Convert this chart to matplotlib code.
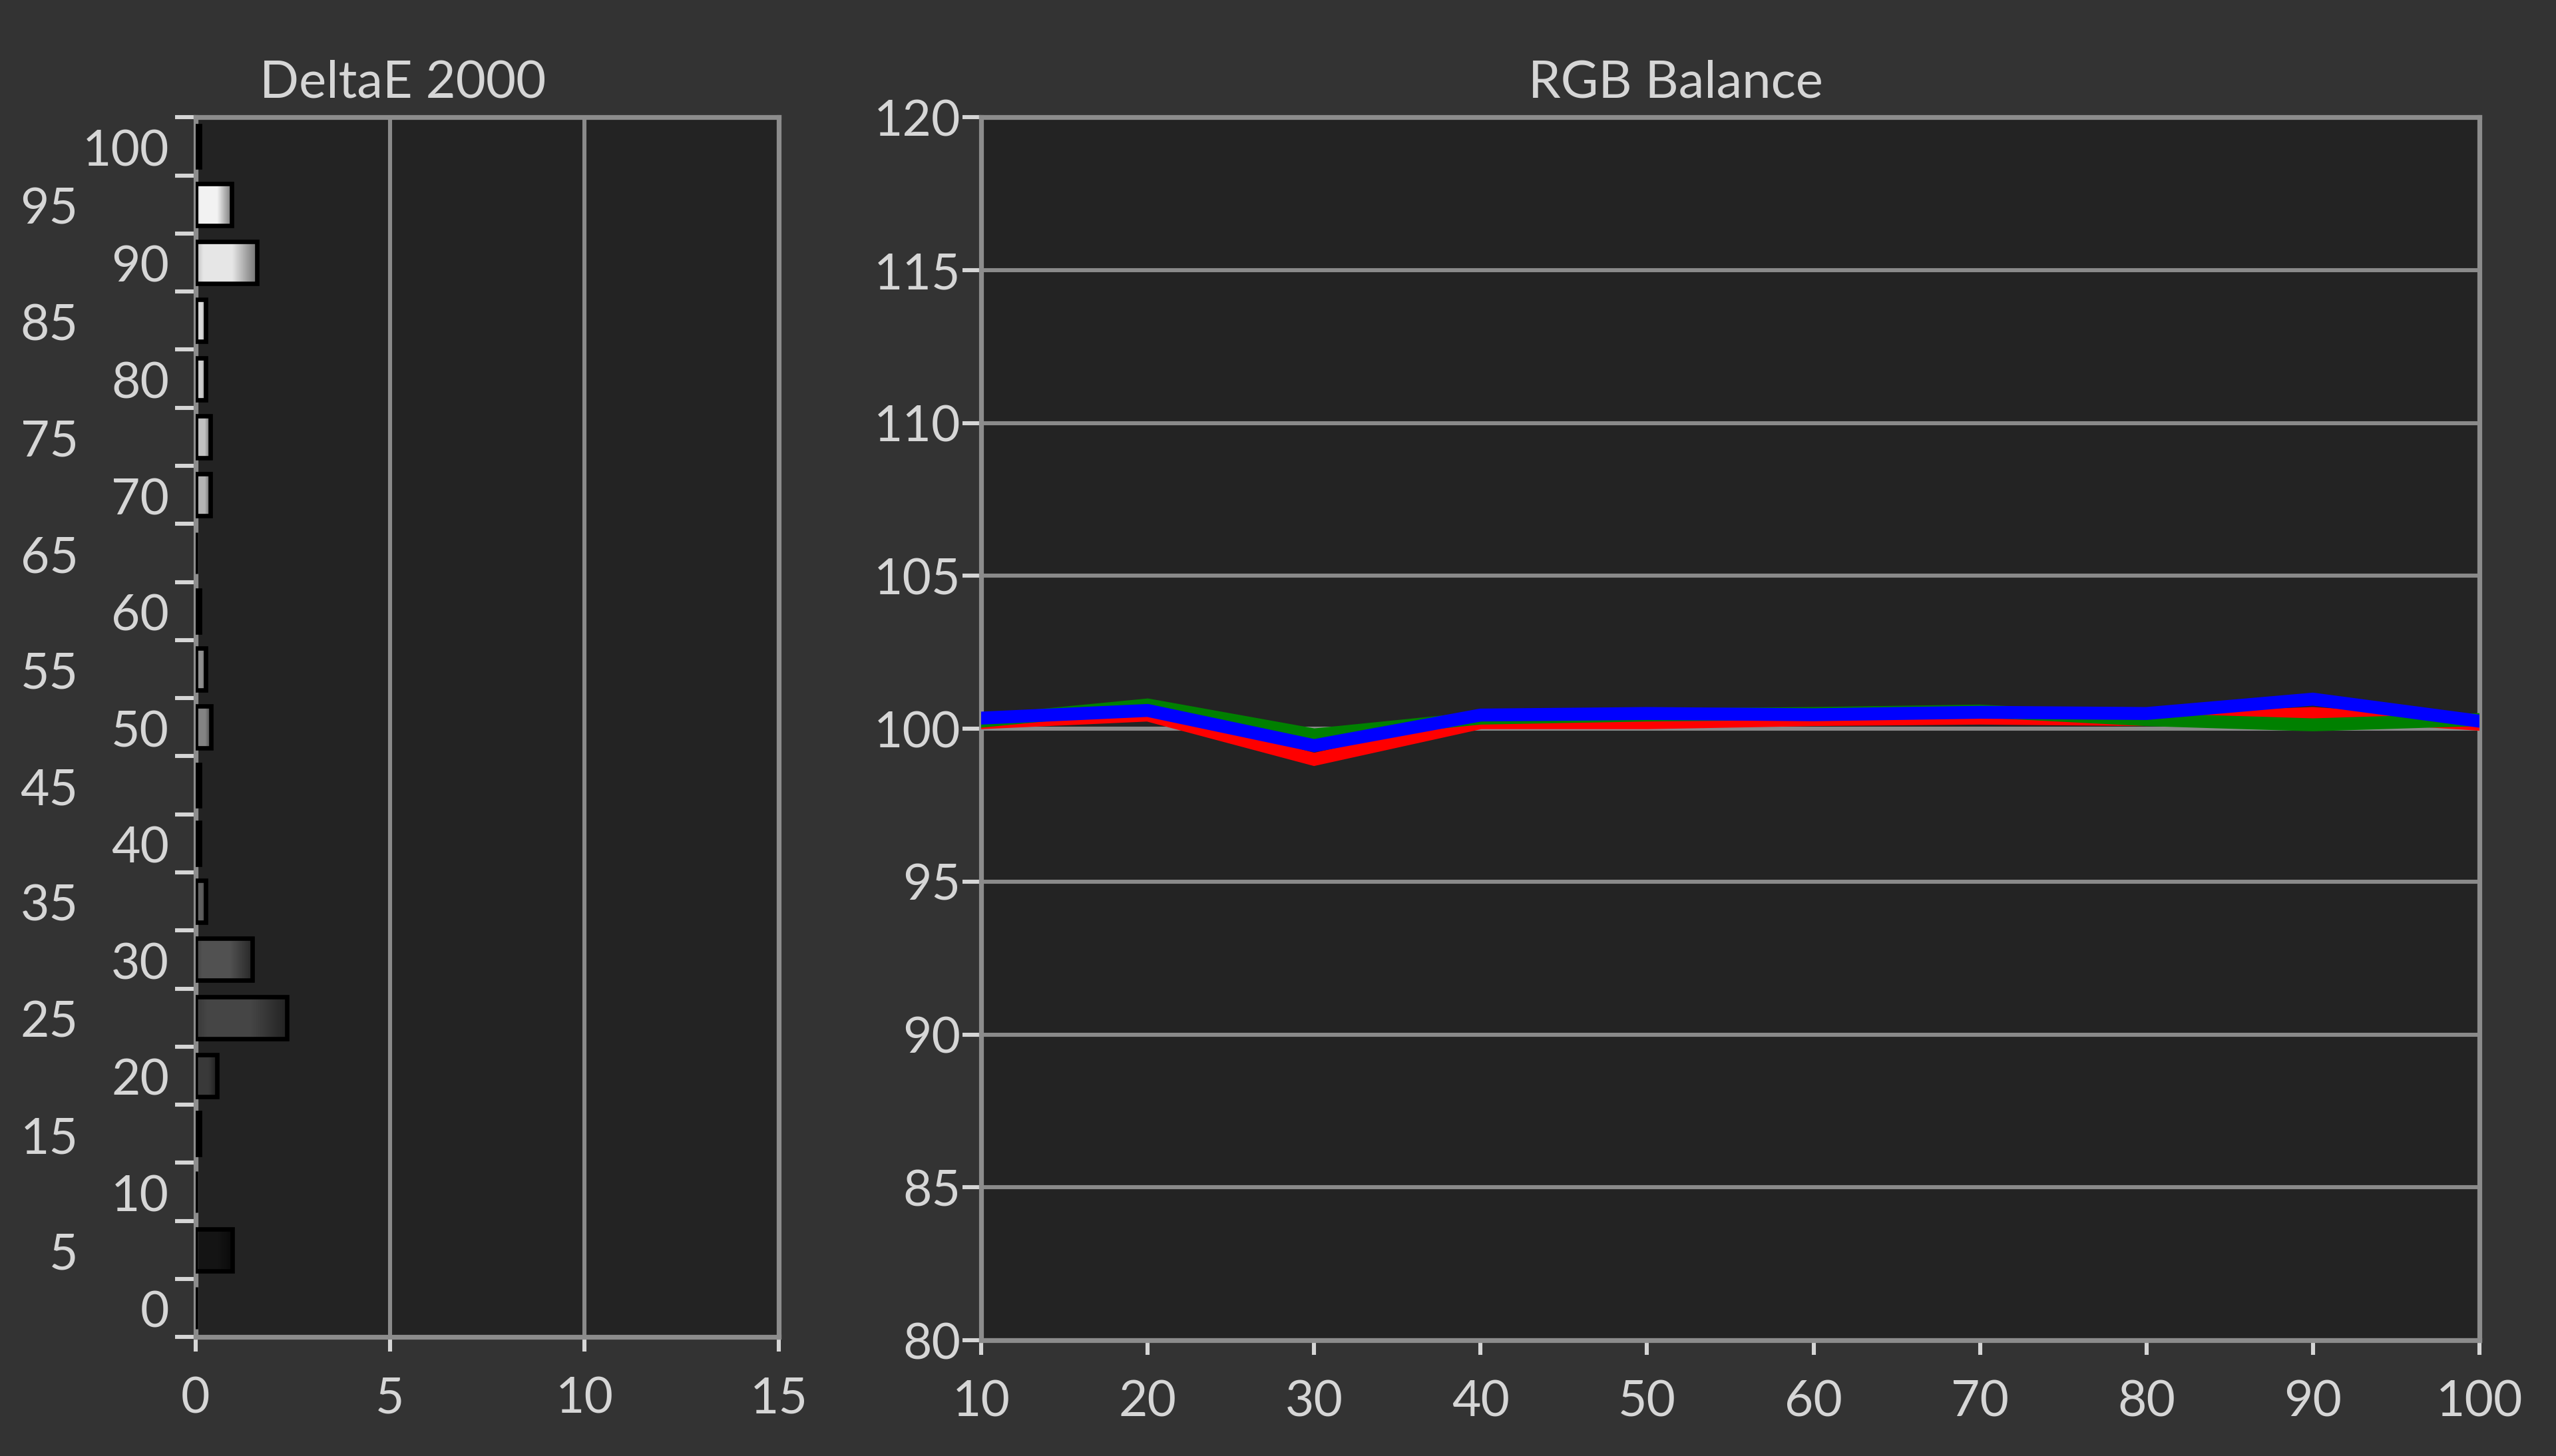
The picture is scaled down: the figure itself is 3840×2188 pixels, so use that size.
import numpy as np
import matplotlib
matplotlib.use("Agg")
import matplotlib.pyplot as plt
from matplotlib.transforms import blended_transform_factory

# Datos de la grafica DeltaE (una barra por nivel de gris)
gray_levels = [0, 5, 10, 15, 20, 25, 30, 35, 40, 45, 50, 55, 60, 65, 70, 75, 80, 85, 90, 95, 100]
delta_e = [0, 0.95, 0, 0.1, 0.56, 2.35, 1.45, 0.26, 0.1, 0.1, 0.4, 0.26, 0.1, 0,
           0.38, 0.38, 0.26, 0.26, 1.57, 0.92, 0.1]
de_ticks = [0, 5, 10, 15]

# Datos del balance RGB
rgb_x = [10, 20, 30, 40, 50, 60, 70, 80, 90, 100]
red_vals = [100.2, 100.45, 99.0, 100.2, 100.2, 100.3, 100.35, 100.3, 100.5, 100.15]
green_vals = [100.25, 100.78, 99.8, 100.35, 100.45, 100.5, 100.58, 100.3, 100.13, 100.3]
blue_vals = [100.35, 100.6, 99.45, 100.45, 100.5, 100.46, 100.54, 100.5, 100.97, 100.25]
rgb_yticks = [80, 85, 90, 95, 100, 105, 110, 115, 120]

FIG_BG = "#333333"
AX_BG = "#232323"
SPINE = "#8c8c8c"
GRID = "#8a8a8a"
TXT = "#d6d6d6"
TICK = "#d6d6d6"
FS = 27

plt.rcParams["font.family"] = ["Lato", "DejaVu Sans"]

fig = plt.figure(figsize=(19.2, 10.94), dpi=200, facecolor=FIG_BG)
ax1 = fig.add_axes([0.0765, 0.0817, 0.2283, 0.8377])
ax2 = fig.add_axes([0.3839, 0.0795, 0.5861, 0.8399])

for ax in (ax1, ax2):
    ax.set_facecolor(AX_BG)
    ax.set_axisbelow(True)
    for s in ax.spines.values():
        s.set_color(SPINE)
        s.set_linewidth(2.6)

# ---- DeltaE 2000 ----
pos = np.arange(len(gray_levels))
h = 0.72
t = np.linspace(0, 1, 64)
shade = np.interp(t, [0, 0.12, 0.6, 1], [0.82, 1.0, 1.0, 0.5])
for i, (lvl, v) in enumerate(zip(gray_levels, delta_e)):
    if v <= 0:
        continue
    g = min(lvl / 100 * 0.97 + 0.03, 0.97)
    img = np.clip(g * shade, 0, 1)
    rgb = np.stack([img, img, img], axis=-1)[None, :, :]
    ax1.imshow(rgb, extent=(0, v, i - h / 2, i + h / 2), aspect="auto",
               interpolation="bilinear", zorder=2)
ax1.barh(pos, delta_e, height=h, facecolor="none", edgecolor="black",
         linewidth=2.4, zorder=3)

ax1.set_xlim(0, 15)
ax1.set_ylim(-0.5, len(gray_levels) - 0.5)
ax1.set_xticks(de_ticks)
ax1.set_xticklabels([str(v) for v in de_ticks], fontsize=FS, color=TXT)
ax1.xaxis.grid(True, color=GRID, linewidth=2.2)
ax1.set_yticks(np.arange(len(gray_levels) + 1) - 0.5)
ax1.set_yticklabels([])
ax1.tick_params(axis="y", length=11, width=2.2, color=TICK, pad=2)
ax1.tick_params(axis="x", length=8, width=2.2, color=TICK, pad=13)

trans = blended_transform_factory(ax1.transAxes, ax1.transData)
for i, lvl in enumerate(gray_levels):
    xoff = -0.045 if lvl % 10 == 0 else -0.201
    ax1.text(xoff, i - 0.09, str(lvl), transform=trans, ha="right", va="center",
             fontsize=FS, color=TXT)

# ---- RGB Balance ----
ax2.plot(rgb_x, red_vals, color="#ff0000", linewidth=7, solid_joinstyle="miter", zorder=3)
ax2.plot(rgb_x, green_vals, color="#008000", linewidth=7, solid_joinstyle="miter", zorder=3)
ax2.plot(rgb_x, blue_vals, color="#0000ff", linewidth=7, solid_joinstyle="miter", zorder=3)
ax2.set_xlim(10, 100)
ax2.set_ylim(80, 120)
ax2.set_xticks(rgb_x)
ax2.set_xticklabels([str(v) for v in rgb_x], fontsize=FS, color=TXT)
ax2.set_yticks(rgb_yticks)
ax2.set_yticklabels([str(v) for v in rgb_yticks], fontsize=FS, color=TXT)
ax2.yaxis.grid(True, color=GRID, linewidth=2.2)
ax2.tick_params(axis="y", length=10, width=2.2, color=TICK, pad=1)
ax2.tick_params(axis="x", length=8, width=2.2, color=TICK, pad=13)

fig.text(0.1575, 0.943, "DeltaE 2000", ha="center", va="center", fontsize=FS + 1, color=TXT)
fig.text(0.6556, 0.943, "RGB Balance", ha="center", va="center", fontsize=FS + 1, color=TXT)

fig.savefig("out.png", dpi=200, facecolor=FIG_BG)
